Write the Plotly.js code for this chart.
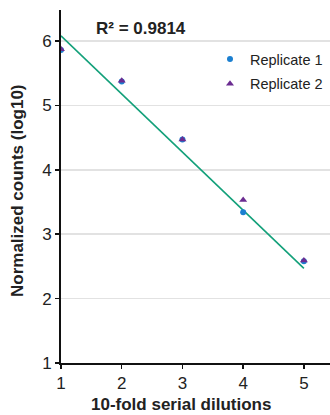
<!DOCTYPE html>
<html><head><meta charset="utf-8">
<script src="https://cdn.plot.ly/plotly-3.0.1.min.js"></script>
<style>html,body{margin:0;padding:0;background:#fff}#c{width:330px;height:415px}</style>
</head><body><div id="c"></div>
<script>
const dilutions = [1, 2, 3, 4, 5];
const replicate1 = [5.86, 5.37, 4.47, 3.34, 2.58];
const replicate2 = [5.87, 5.38, 4.47, 3.53, 2.59];
const fitX = [1, 5];
const fitY = [6.08, 2.47];
const rSquaredLabel = "R² = 0.9814";
const yTicks = [1, 2, 3, 4, 5, 6];
const xTicks = [1, 2, 3, 4, 5];

const font = "Liberation Sans, Arial, sans-serif";
const traces = [
  {x: fitX, y: fitY, mode: "lines", line: {color: "#13a07a", width: 1.6}, showlegend: false, hoverinfo: "skip"},
  {x: dilutions, y: replicate1, mode: "markers", name: "Replicate 1", legendgroup: "a",
   marker: {symbol: "circle", size: 6, color: "#1b7fd0"}},
  {x: dilutions, y: replicate2, mode: "markers", name: "Replicate 2", legendgroup: "b",
   marker: {symbol: "triangle-up", size: 7, color: "#6b2c91"}}
];
const layout = {
  width: 330, height: 415,
  margin: {l: 61, r: 0, t: 10, b: 52},
  paper_bgcolor: "#fff", plot_bgcolor: "#fff",
  font: {family: font, color: "#222", size: 17},
  showlegend: true,
  legend: {x: (210-61)/269, y: (363-43)/353, xanchor: "left", yanchor: "top", bgcolor: "rgba(0,0,0,0)",
           font: {family: font, size: 14.5, color: "#222"}, itemwidth: 30, tracegroupgap: 3,
           traceorder: "grouped"},
  xaxis: {range: [1, 5.43], tickvals: xTicks, ticks: "outside", ticklen: 4, tickwidth: 1.5,
          tickcolor: "#111", showline: true, linecolor: "#111", linewidth: 2, showgrid: false,
          zeroline: false, tickfont: {size: 17, family: font, color: "#222"}, fixedrange: true},
  yaxis: {range: [1, 6.48], tickvals: yTicks, ticks: "outside", ticklen: 4, tickwidth: 1.5,
          tickcolor: "#111", showline: true, linecolor: "#111", linewidth: 2, showgrid: true,
          gridcolor: "#e2e2e2", gridwidth: 1.5, zeroline: false,
          tickfont: {size: 17, family: font, color: "#222"}, fixedrange: true},
  annotations: [
    {text: "<b>" + rSquaredLabel + "</b>", xref: "paper", yref: "paper", x: (141-61)/269, y: (363-29)/353,
     xanchor: "center", yanchor: "middle", showarrow: false, font: {size: 17, family: font, color: "#222"}},
    {text: "<b>10-fold serial dilutions</b>", xref: "paper", yref: "paper", x: (181-61)/269, y: (363-404)/353,
     xanchor: "center", yanchor: "middle", showarrow: false, font: {size: 17, family: font, color: "#222"}},
    {text: "<b>Normalized counts (log10)</b>", xref: "paper", yref: "paper", x: (17-61)/269, y: (363-191)/353,
     xanchor: "center", yanchor: "middle", textangle: -90, showarrow: false, font: {size: 17, family: font, color: "#222"}}
  ]
};
Plotly.newPlot("c", traces, layout, {staticPlot: true, displayModeBar: false});
</script></body></html>
